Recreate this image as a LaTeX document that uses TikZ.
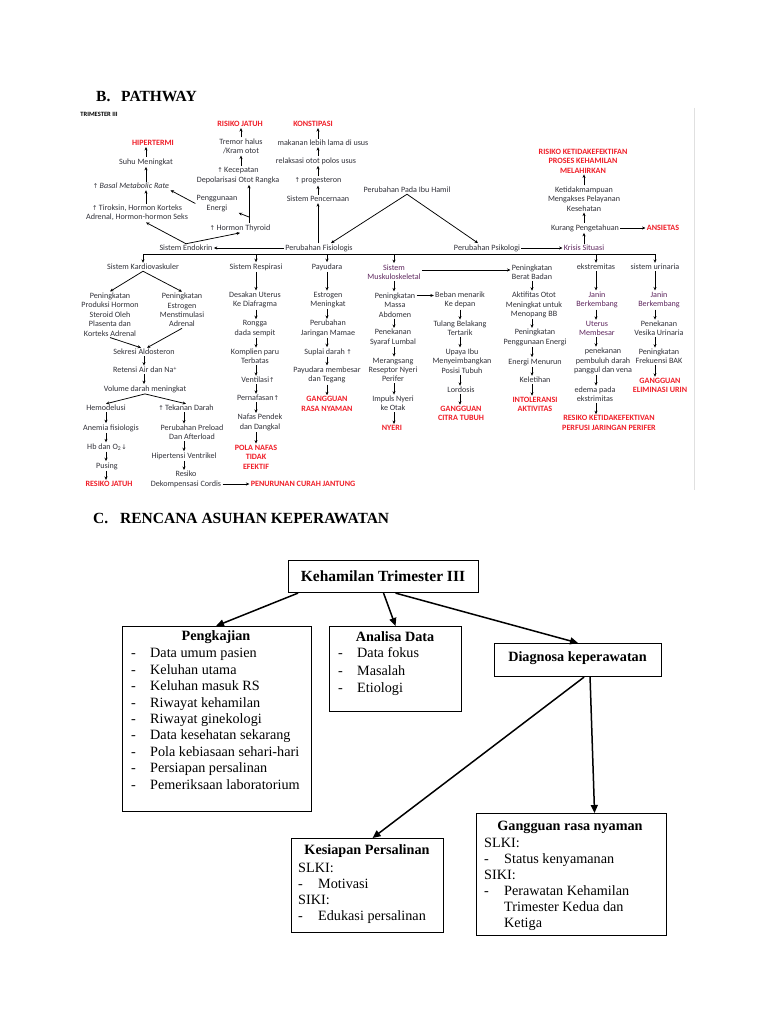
\documentclass[tikz,border=0pt]{standalone}
\usepackage{fontspec}
\setmainfont{Liberation Serif}
\newfontfamily\pthfont{Carlito}
\newfontfamily\symfont{DejaVu Sans}
\usetikzlibrary{arrows.meta}
\definecolor{redc}{RGB}{240,30,40}
\definecolor{txtc}{RGB}{50,50,58}
\definecolor{purc}{RGB}{95,40,95}
\newcommand\pf{\pthfont\fontsize{8.1}{9.4}\selectfont}
\newcommand\pfb{\pthfont\bfseries\fontsize{8.1}{9.4}\selectfont}
\newcommand\uparr{{\symfont\fontsize{6.5}{6.5}\selectfont↑}}
\newcommand\dnarr{{\symfont\fontsize{6.5}{6.5}\selectfont↓}}
\newcommand\itm{\makebox[19pt][l]{-}}
\newcommand\itmb{\makebox[20pt][l]{-}}
\begin{document}
\begin{tikzpicture}[x=1pt,y=-1pt,
  p/.style={font=\pf, align=center, inner sep=1.2pt, text=txtc},
  pp/.style={p, text=purc},
  r/.style={font=\pfb, align=center, inner sep=1.2pt, text=redc},
  parr/.style={-{Stealth[length=3.4pt,width=3pt]}, line width=0.75pt},
  hd/.style={font=\bfseries\fontsize{15.5}{18}\selectfont, inner sep=0pt},
  bx/.style={draw, line width=1.1pt, inner sep=0pt, anchor=north west},
  bt/.style={font=\bfseries\fontsize{14.2}{16.4}\selectfont, inner sep=0pt},
  bl/.style={align=left, inner sep=0pt, anchor=north west},
  barr/.style={-{Triangle[length=8pt,width=7pt]}, line width=1.5pt}
]
\fill[white] (0,0) rectangle (768,1024);
\path[use as bounding box] (0,0) rectangle (768,1024);

% headings
\node[hd, anchor=base west] (hB) at (96,102) {\makebox[25pt][l]{B.}PATHWAY};
\node[hd, anchor=base west] (hC) at (93,523) {\makebox[27pt][l]{C.}RENCANA ASUHAN KEPERAWATAN};

% pathway image border
\draw[black!12, line width=0.8pt] (694,108) -- (694,490);

% ---------------- PATHWAY -----------------
\node[p, anchor=west, font=\pthfont\bfseries\fontsize{6.5}{7}\selectfont, text=black] (trim) at (79,114) {TRIMESTER III};

% left top
\node[r] (hiper) at (153,143) {HIPERTERMI};
\node[p] (suhu) at (146,162) {Suhu Meningkat};
\node[p] (bmr) at (131,186) {\uparr\,\textit{Basal Metabolic Rate}};
\node[p] (tirok) at (137,213) {\uparr\,Tiroksin, Hormon Korteks\\Adrenal, Hormon-hormon Seks};
\node[p] (energi) at (217,203.5) {Penggunaan\\Energi};
\node[r] (rj1) at (240,124) {RISIKO JATUH};
\node[p] (tremor) at (241,146.5) {Tremor halus\\/Kram otot};
\node[p] (kecep) at (238,175.5) {\uparr\,Kecepatan\\Depolarisasi Otot Rangka};
\node[p] (thyroid) at (240,228) {\uparr\,Hormon Thyroid};
\coordinate (tj) at (249,217);

\draw[parr] (suhu.north) -- (suhu.north |- hiper.south);
\draw[parr] (bmr.north -| suhu) -- (suhu.south);
\draw[parr] (tirok.north -| suhu) -- (bmr.south -| suhu);
\draw[parr] (energi.west) -- (bmr.south east);
\draw[parr] (tremor.north) -- (tremor.north |- rj1.south);
\draw[parr] (kecep.north -| tremor) -- (tremor.south);
\draw[line width=0.75pt] (thyroid.north -| tj) -- (tj);
\draw[parr] (tj) -- (tj |- kecep.south);
\draw[parr] (tj) -- (energi.south east);

% middle row
\node[p] (endo) at (186,248) {Sistem Endokrin};
\node[p] (fisio) at (319,248) {Perubahan Fisiologis};
\node[p] (psiko) at (487,248) {Perubahan Psikologi};
\node[pp] (krisis) at (584,248) {Krisis Situasi};
\draw[parr] (endo.north) -- ([xshift=9pt]tirok.south);
\draw[parr] (endo.north) -- (thyroid.south);
\draw[parr] (fisio.west) -- (endo.east);
\draw[parr] (psiko.east) -- (krisis.west);

% digestive column
\node[p] (pencern) at (318,199) {Sistem Pencernaan};
\node[p] (proges) at (318,181) {\uparr\,progesteron};
\node[p] (relaks) at (316,161) {relaksasi otot polos usus};
\node[p] (makan) at (323,143) {makanan lebih lama di usus};
\node[r] (konst) at (313,124) {KONSTIPASI};
\draw[parr] (fisio.north -| pencern) -- (pencern.south);
\draw[parr] (pencern.north) -- (pencern.north |- proges.south);
\draw[parr] (proges.north -| pencern) -- (relaks.south -| pencern);
\draw[parr] (relaks.north -| pencern) -- (makan.south -| pencern);
\draw[parr] (makan.north -| pencern) -- (konst.south -| pencern);

\node[p] (ibu) at (407,190) {Perubahan Pada Ibu Hamil};
\draw[parr] (ibu.south) -- ([xshift=12pt]fisio.north);
\draw[parr] (ibu.south) -- ([xshift=-9pt]psiko.north);

% psychological column
\node[p] (kurang) at (585,228) {Kurang Pengetahuan};
\node[r] (ansietas) at (663,228) {ANSIETAS};
\node[p] (ketidak) at (584,199) {Ketidakmampuan\\Mengakses Pelayanan\\Kesehatan};
\node[r] (rkp) at (583,161) {RISIKO KETIDAKEFEKTIFAN\\PROSES KEHAMILAN\\MELAHIRKAN};
\draw[parr] (krisis.north) -- (krisis.north |- kurang.south);
\draw[parr] (kurang.east) -- (ansietas.west);
\draw[parr] (kurang.north -| krisis) -- (ketidak.south -| krisis);
\draw[parr] (ketidak.north -| krisis) -- (rkp.south -| krisis);

% bus
\coordinate (busL) at (143,254);
\coordinate (busR) at (655,254);
\draw[line width=0.75pt] (busL) -- (busR);

\node[p] (kardio) at (143,267) {Sistem Kardiovaskuler};
\node[p] (resp) at (256,267) {Sistem Respirasi};
\node[p] (payu) at (327,267) {Payudara};
\node[pp] (musk) at (394,272) {Sistem\\Muskuloskeletal};
\node[p] (bb) at (532,272) {Peningkatan\\Berat Badan};
\node[p] (ekst) at (596,267) {ekstremitas};
\node[p] (urin) at (655,267) {sistem urinaria};
\foreach \n in {kardio,resp,payu,musk,ekst,urin}
  \draw[parr] (busL -| \n) -- (\n.north);
\draw[parr] ([yshift=2pt]musk.east) -- ([yshift=2pt]bb.west);

% cardiovascular
\node[p] (pk1) at (110,314.5) {Peningkatan\\Produksi Hormon\\Steroid Oleh\\Plasenta dan\\Korteks Adrenal};
\node[p] (pk2) at (182,310) {Peningkatan\\Estrogen\\Menstimulasi\\Adrenal};
\node[p] (aldo) at (144,352) {Sekresi Aldosteron};
\node[p] (retensi) at (145,370) {Retensi Air dan Na\textsuperscript{+}};
\node[p] (vol) at (145,389) {Volume darah meningkat};
\node[p] (hemo) at (106,408) {Hemodelusi};
\node[p] (tekan) at (186,408) {\uparr\,Tekanan Darah};
\node[p] (anemia) at (111,428) {Anemia fisiologis};
\node[p] (hb) at (107,447) {Hb dan O\textsubscript{2}\dnarr};
\node[p] (pusing) at (107,466) {Pusing};
\node[r] (rj2) at (109,484) {RESIKO JATUH};
\node[p] (preload) at (192,432.5) {Perubahan Preload\\Dan Afterload};
\node[p] (hvent) at (184,456) {Hipertensi Ventrikel};
\node[p] (dekom) at (186,479.5) {Resiko\\Dekompensasi Cordis};
\node[r] (pcj) at (303,484) {PENURUNAN CURAH JANTUNG};
\draw[parr] (kardio.south) -- (pk1.north);
\draw[parr] (kardio.south) -- (pk2.north);
\draw[parr] (pk1.south) -- ([xshift=-3pt]aldo.north);
\draw[parr] (pk2.south) -- ([xshift=3pt]aldo.north);
\draw[parr] (aldo.south) -- (aldo.south |- retensi.north);
\draw[parr] (retensi.south -| aldo) -- (vol.north -| aldo);
\draw[parr] (vol.south) -- (hemo.north);
\draw[parr] (vol.south) -- (tekan.north);
\draw[parr] (hemo.south) -- (hemo.south |- anemia.north);
\draw[parr] (anemia.south -| hemo) -- (hb.north -| hemo);
\draw[parr] (hb.south -| hemo) -- (pusing.north -| hemo);
\draw[parr] (pusing.south -| hemo) -- (rj2.north -| hemo);
\draw[parr] (tekan.south -| hvent) -- (preload.north -| hvent);
\draw[parr] (preload.south -| hvent) -- (hvent.north);
\draw[parr] (hvent.south) -- (hvent.south |- dekom.north);
\draw[parr] (dekom.east |- pcj.west) -- (pcj.west);

% respiration
\node[p] (desak) at (255,300) {Desakan Uterus\\Ke Diafragma};
\node[p] (rongga) at (255,328.5) {Rongga\\dada sempit};
\node[p] (kompl) at (255,356.5) {Komplien paru\\Terbatas};
\node[p] (venti) at (258,380) {Ventilasi\uparr};
\node[p] (perna) at (258,398) {Pernafasan\uparr};
\node[p] (nafas) at (260,422.5) {Nafas Pendek\\dan Dangkal};
\node[r] (pola) at (256,457) {POLA NAFAS\\TIDAK\\EFEKTIF};
\draw[parr] (resp.south) -- (resp.south |- desak.north);
\draw[parr] (desak.south -| resp) -- (rongga.north -| resp);
\draw[parr] (rongga.south -| resp) -- (kompl.north -| resp);
\draw[parr] (kompl.south -| resp) -- (venti.north -| resp);
\draw[parr] (venti.south -| resp) -- (perna.north -| resp);
\draw[parr] (perna.south -| resp) -- (nafas.north -| resp);
\draw[parr] (nafas.south -| resp) -- (pola.north -| resp);

% breast
\node[p] (estr) at (328,300) {Estrogen\\Meningkat};
\node[p] (mamae) at (328,328.5) {Perubahan\\Jaringan Mamae};
\node[p] (suplai) at (328,352) {Suplai darah\,\uparr};
\node[p] (membesar) at (327,375) {Payudara membesar\\dan Tegang};
\node[r] (ggrn) at (327,404) {GANGGUAN\\RASA NYAMAN};
\draw[parr] (payu.south) -- (payu.south |- estr.north);
\draw[parr] (estr.south -| payu) -- (mamae.north -| payu);
\draw[parr] (mamae.south -| payu) -- (suplai.north -| payu);
\draw[parr] (suplai.south -| payu) -- (membesar.north -| payu);
\draw[parr] (membesar.south -| payu) -- (ggrn.north -| payu);

% musculoskeletal
\node[p] (massa) at (395,305) {Peningkatan\\Massa\\Abdomen};
\node[p] (penek) at (393,337.5) {Penekanan\\Syaraf Lumbal};
\node[p] (meran) at (393,370) {Merangsang\\Reseptor Nyeri\\Perifer};
\node[p] (impuls) at (393,403.5) {Impuls Nyeri\\ke Otak};
\node[r] (nyeri) at (392,428) {NYERI};
\draw[parr] (musk.south) -- (musk.south |- massa.north);
\draw[parr] (massa.south -| musk) -- (penek.north -| musk);
\draw[parr] (penek.south -| musk) -- (meran.north -| musk);
\draw[parr] (meran.south -| musk) -- (impuls.north -| musk);
\draw[parr] (impuls.south -| musk) -- (nyeri.north -| musk);

\node[p] (beban) at (460,300) {Beban menarik\\Ke depan};
\node[p] (tulang) at (460,328.5) {Tulang Belakang\\Tertarik};
\node[p] (upaya) at (462,361) {Upaya Ibu\\Menyeimbangkan\\Posisi Tubuh};
\node[p] (lord) at (461,390) {Lordosis};
\node[r] (gct) at (461,413.5) {GANGGUAN\\CITRA TUBUH};
\path ([yshift=4.5pt]beban.west) coordinate (bw);
\draw[parr] (massa.east |- bw) -- (bw);
\draw[parr] (beban.south) -- (beban.south |- tulang.north);
\draw[parr] (tulang.south -| beban) -- (upaya.north -| beban);
\draw[parr] (upaya.south -| beban) -- (lord.north -| beban);
\draw[parr] (lord.south -| beban) -- (gct.north -| beban);

% weight
\node[p] (akt) at (534,305) {Aktifitas Otot\\Meningkat untuk\\Menopang BB};
\node[p] (ppe) at (535,337.5) {Peningkatan\\Penggunaan Energi};
\node[p] (em) at (535,362) {Energi Menurun};
\node[p] (kel) at (535,380) {Keletihan};
\node[r] (intol) at (535,404.5) {INTOLERANSI\\AKTIVITAS};
\draw[parr] (bb.south) -- (bb.south |- akt.north);
\draw[parr] (akt.south -| bb) -- (ppe.north -| bb);
\draw[parr] (ppe.south -| bb) -- (em.north -| bb);
\draw[parr] (em.south -| bb) -- (kel.north -| bb);
\draw[parr] (kel.south -| bb) -- (intol.north -| bb);

% extremities
\node[pp] (jan1) at (597,300) {Janin\\Berkembang};
\node[pp] (uterus) at (597,328.5) {Uterus\\Membesar};
\node[p] (pen2) at (603,361) {penekanan\\pembuluh darah\\panggul dan vena};
\node[p] (edema) at (595,394.5) {edema pada\\ekstrimitas};
\node[r] (rkpp) at (609,423) {RESIKO KETIDAKEFEKTIVAN\\PERFUSI JARINGAN PERIFER};
\draw[parr] (ekst.south) -- (ekst.south |- jan1.north);
\draw[parr] (jan1.south -| ekst) -- (uterus.north -| ekst);
\draw[parr] (uterus.south -| ekst) -- (pen2.north -| ekst);
\draw[parr] (pen2.south -| ekst) -- (edema.north -| ekst);
\draw[parr] (edema.south -| ekst) -- (rkpp.north -| ekst);

% urinary
\node[pp] (jan2) at (659,300) {Janin\\Berkembang};
\node[p] (vesika) at (659,328.5) {Penekanan\\Vesika Urinaria};
\node[p] (frek) at (659,356.5) {Peningkatan\\Frekuensi BAK};
\node[r] (geu) at (660,385.5) {GANGGUAN\\ELIMINASI URIN};
\draw[parr] (urin.south) -- (urin.south |- jan2.north);
\draw[parr] (jan2.south -| urin) -- (vesika.north -| urin);
\draw[parr] (vesika.south -| urin) -- (frek.north -| urin);
\draw[parr] (frek.south -| urin) -- (geu.north -| urin);

% ---------------- RENCANA ASUHAN -----------------
\node[bx, minimum width=190pt, minimum height=32pt] (keh) at (288,560) {};
\node[hd] (kehT) at (383,576) {Kehamilan Trimester III};

\node[bx, minimum width=189pt, minimum height=185pt] (peng) at (122,626) {};
\node[bt] (pengT) at (216,637) {Pengkajian};
\node[bl, font=\fontsize{14.2}{16.4}\selectfont] (pengL) at (131,646.7) {\rule{0pt}{11pt}\itm Data umum pasien\\
\itm Keluhan utama\\ \itm Keluhan masuk RS\\ \itm Riwayat kehamilan\\ \itm Riwayat ginekologi\\
\itm Data kesehatan sekarang\\ \itm Pola kebiasaan sehari-hari\\ \itm Persiapan persalinan\\ \itm Pemeriksaan laboratorium};

\node[bx, minimum width=132pt, minimum height=85pt] (ana) at (329,626) {};
\node[bt] (anaT) at (395,637) {Analisa Data};
\node[bl, font=\fontsize{14.2}{17.2}\selectfont] (anaL) at (338,646.7) {\rule{0pt}{11pt}\itm Data fokus\\ \itm Masalah\\ \itm Etiologi};

\node[bx, minimum width=167pt, minimum height=33pt] (diag) at (494,643) {};
\node[bt] (diagT) at (577.5,658) {Diagnosa keperawatan};

\node[bx, minimum width=152pt, minimum height=94pt] (kes) at (291,838) {};
\node[bt] (kesT) at (367,851) {Kesiapan Persalinan};
\node[bl, font=\fontsize{14.2}{16}\selectfont] (kesL) at (298,861.7) {\rule{0pt}{11pt}SLKI:\\ \itmb Motivasi\\ SIKI:\\ \itmb Edukasi persalinan};

\node[bx, minimum width=190pt, minimum height=122pt] (gg) at (476,813) {};
\node[bt] (ggT) at (570,827) {Gangguan rasa nyaman};
\node[bl, font=\fontsize{14.2}{15.9}\selectfont] (ggL) at (484,836.7) {\rule{0pt}{11pt}SLKI:\\ \itmb Status kenyamanan\\ SIKI:\\ \itmb Perawatan Kehamilan\\ \hspace*{20pt}Trimester Kedua dan\\ \hspace*{20pt}Ketiga};

\draw[barr] ([xshift=10pt]keh.south west) -- (peng.north -| pengT);
\draw[barr] (keh.south) -- (ana.north);
\draw[barr] ([xshift=12pt]keh.south) -- (diag.north);
\draw[barr] ([xshift=6pt]diag.south) -- ([xshift=5pt]kes.north);
\draw[barr] ([xshift=12pt]diag.south) -- ([xshift=23pt]gg.north);
\end{tikzpicture}
\end{document}
